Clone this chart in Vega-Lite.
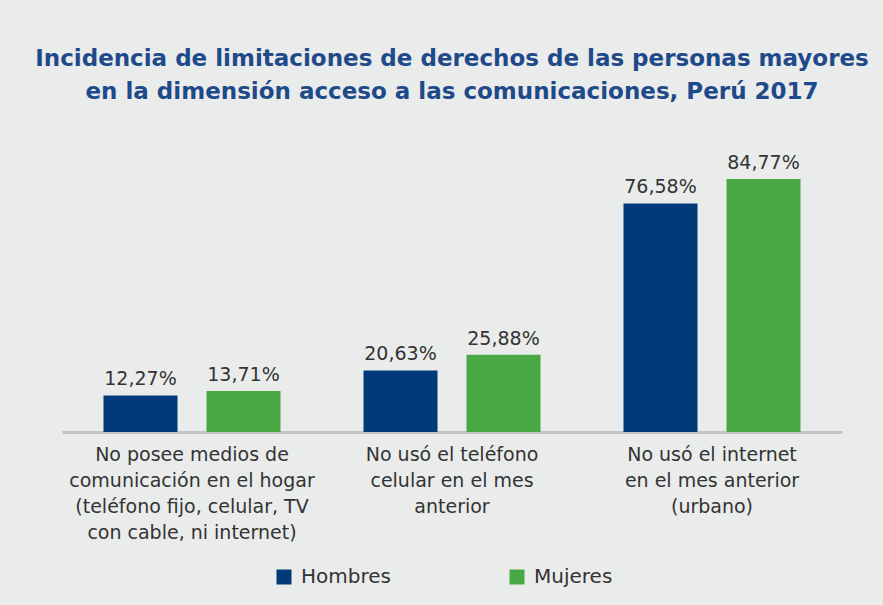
{
  "$schema": "https://vega.github.io/schema/vega-lite/v6.json",
  "background": "#eaebeb",
  "padding": {"left": 35, "top": 48, "right": 14, "bottom": 18},
  "width": 780,
  "height": 299,
  "title": {
    "text": ["Incidencia de limitaciones de derechos de las personas mayores", "en la dimensión acceso a las comunicaciones, Perú 2017"],
    "font": "DejaVu Sans",
    "fontSize": 23,
    "fontWeight": "bold",
    "color": "#1f4a8a",
    "lineHeight": 33,
    "anchor": "middle",
    "offset": 29
  },
  "config": {
    "view": {"stroke": null},
    "font": "DejaVu Sans",
    "locale": {"number": {"decimal": ",", "thousands": ".", "grouping": [3], "currency": ["", ""]}}
  },
  "data": {
    "values": [
      {"categoria": "No posee medios de|comunicación en el hogar|(teléfono fijo, celular, TV|con cable, ni internet)", "sexo": "Hombres", "valor": 0.1227},
      {"categoria": "No posee medios de|comunicación en el hogar|(teléfono fijo, celular, TV|con cable, ni internet)", "sexo": "Mujeres", "valor": 0.1371},
      {"categoria": "No usó el teléfono|celular en el mes|anterior", "sexo": "Hombres", "valor": 0.2063},
      {"categoria": "No usó el teléfono|celular en el mes|anterior", "sexo": "Mujeres", "valor": 0.2588},
      {"categoria": "No usó el internet|en el mes anterior|(urbano)", "sexo": "Hombres", "valor": 0.7658},
      {"categoria": "No usó el internet|en el mes anterior|(urbano)", "sexo": "Mujeres", "valor": 0.8477}
    ]
  },
  "encoding": {
    "x": {
      "field": "categoria",
      "type": "nominal",
      "sort": null,
      "scale": {"paddingInner": 0, "paddingOuter": 0},
      "axis": {
        "title": null,
        "labelAngle": 0,
        "labelExpr": "split(datum.label, '|')",
        "labelFontSize": 19,
        "labelLineHeight": 26,
        "labelColor": "#333333",
        "labelPadding": 13,
        "labelBaseline": "top",
        "labelLimit": 0,
        "ticks": false,
        "domainColor": "#c3c4c8",
        "domainWidth": 3,
        "labelFont": "DejaVu Sans"
      }
    },
    "xOffset": {
      "field": "sexo",
      "type": "nominal",
      "scale": {"paddingInner": 0.2816, "paddingOuter": 0.403}
    },
    "y": {
      "field": "valor",
      "type": "quantitative",
      "scale": {"domain": [0, 1.002], "nice": false},
      "axis": null
    }
  },
  "layer": [
    {
      "mark": {"type": "bar"},
      "encoding": {
        "color": {
          "field": "sexo",
          "type": "nominal",
          "scale": {"domain": ["Hombres", "Mujeres"], "range": ["#003a78", "#4aa844"]},
          "legend": {
            "title": null,
            "orient": "none",
            "direction": "horizontal",
            "legendX": 212,
            "legendY": 434,
            "symbolType": "square",
            "symbolSize": 225,
            "symbolStrokeWidth": 0,
            "labelFontSize": 20,
            "labelColor": "#333333",
            "labelFont": "DejaVu Sans",
            "columnPadding": 116,
            "labelOffset": 7
          }
        }
      }
    },
    {
      "mark": {"type": "text", "baseline": "alphabetic", "dy": -10, "fontSize": 19, "color": "#333333", "font": "DejaVu Sans"},
      "encoding": {
        "text": {"field": "valor", "type": "quantitative", "format": ".2%"}
      }
    }
  ]
}
